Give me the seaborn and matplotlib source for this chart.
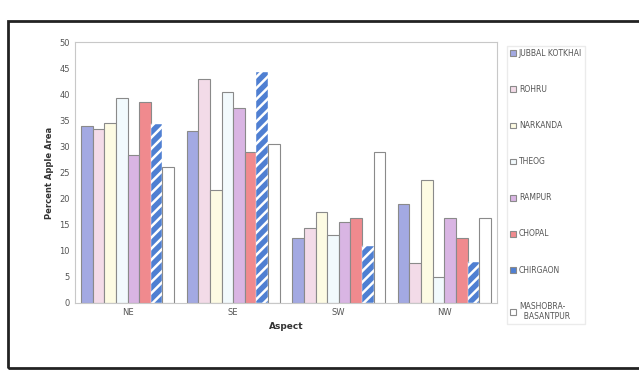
import pandas as pd
import matplotlib.pyplot as plt
import seaborn as sns
from matplotlib.patches import Rectangle

# Percent apple area by aspect, per block
aspects = ["NE", "SE", "SW", "NW"]
blocks = ["JUBBAL KOTKHAI", "ROHRU", "NARKANDA", "THEOG", "RAMPUR",
          "CHOPAL", "CHIRGAON", "MASHOBRA-\n  BASANTPUR"]
jubbal = [34.0, 33.0, 12.5, 19.0]
rohru = [33.4, 43.0, 14.4, 7.6]
narkanda = [34.4, 21.6, 17.5, 23.6]
theog = [39.2, 40.4, 13.0, 4.9]
rampur = [28.3, 37.4, 15.6, 16.2]
chopal = [38.5, 29.0, 16.3, 12.4]
chirgaon = [34.3, 44.3, 10.9, 7.9]
mashobra = [26.0, 30.4, 28.9, 16.3]

colours = ["#a3a9e2", "#f3dbe8", "#fdfbe3", "#f2fafd", "#d9b5e3",
           "#f08a8e", "#4f7fd2", "#ffffff"]

series = [jubbal, rohru, narkanda, theog, rampur, chopal, chirgaon, mashobra]
rows = []
for b, vals in zip(blocks, series):
    for a, v in zip(aspects, vals):
        rows.append({"Aspect": a, "Block": b, "Percent": v})
df = pd.DataFrame(rows)

sns.set_style("white")
plt.rcParams['font.family'] = ['DejaVu Sans']
plt.rcParams['hatch.linewidth'] = 1.8

fig = plt.figure(figsize=(6.39, 3.75), dpi=100)
ax = fig.add_axes([0.117, 0.192, 0.661, 0.696])

sns.barplot(data=df, x="Aspect", y="Percent", hue="Block", hue_order=blocks,
            palette=colours, width=0.88, gap=0.0, saturation=1,
            edgecolor="#8a8a8a", linewidth=0.8, ax=ax, legend=True)

# hatched CHIRGAON bars: white stripes (hatch follows the edge colour)
for bar in ax.containers[6]:
    bar.set_hatch("///")
    bar.set_edgecolor("white")
    bar.set_linewidth(0.3)

ax.set_ylim(0, 50)
ax.set_yticks(range(0, 51, 5))
ax.set_xlim(-0.5, 3.5)
ax.tick_params(axis="both", labelsize=6, colors="#555555", length=0)
ax.set_ylabel("Percent Apple Area", fontsize=6, fontweight="bold", color="#333333")
ax.set_xlabel("Aspect", fontsize=6.5, fontweight="bold", color="#333333")
for s in ax.spines.values():
    s.set_color("#c8c8c8")
    s.set_linewidth(0.8)

handles, labels = ax.get_legend_handles_labels()
leg = ax.legend(handles, labels, loc="upper left", bbox_to_anchor=(1.015, 1.0),
                fontsize=5.5, frameon=True, edgecolor="#e6e6e6", fancybox=False,
                labelspacing=3.55, handlelength=0.8, handleheight=0.8,
                handletextpad=0.3, borderpad=0.4, labelcolor="#555555")
leg.legend_handles[6].set_facecolor(colours[6])

# scanned page frame
fig.patches.append(Rectangle((0.012, 0.02), 1.2, 0.925, transform=fig.transFigure,
                             fill=False, edgecolor="#222222", linewidth=2.0))

fig.savefig("out.png", dpi=100)
